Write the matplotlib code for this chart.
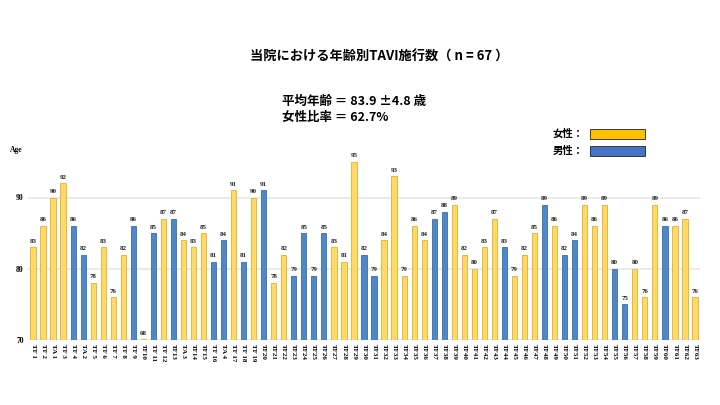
import matplotlib
matplotlib.use("Agg")
import matplotlib.pyplot as plt
from matplotlib.patches import Rectangle

labels = ["TF 1", "TF 2", "TA 1", "TF 3", "TF 4", "TA 2", "TF 5", "TF 6", "TF 7", "TF 8",
          "TF 9", "TF10", "TF 11", "TF 12", "TF13", "TA 3", "TF14", "TF15", "TF 16", "TA 4",
          "TF 17", "TF 18", "TF 19", "TF20", "TF21", "TF22", "TF23", "TF24", "TF25", "TF26",
          "TF27", "TF28", "TF29", "TF30", "TF31", "TF32", "TF33", "TF34", "TF35", "TF36",
          "TF37", "TF38", "TF39", "TF40", "TF41", "TF42", "TF43", "TF44", "TF45", "TF46",
          "TF47", "TF48", "TF49", "TF50", "TF51", "TF52", "TF53", "TF54", "TF55", "TF56",
          "TF57", "TF58", "TF59", "TF60", "TF61", "TF62", "TF63"]
ages = [83, 86, 90, 92, 86, 82, 78, 83, 76, 82,
        86, 68, 85, 87, 87, 84, 83, 85, 81, 84,
        91, 81, 90, 91, 78, 82, 79, 85, 79, 85,
        83, 81, 95, 82, 79, 84, 93, 79, 86, 84,
        87, 88, 89, 82, 80, 83, 87, 83, 79, 82,
        85, 89, 86, 82, 84, 89, 86, 89, 80, 75,
        80, 76, 89, 86, 86, 87, 76]
sex = ["F", "F", "F", "F", "M", "M", "F", "F", "F", "F",
       "M", "F", "M", "F", "M", "F", "F", "F", "M", "M",
       "F", "M", "F", "M", "F", "F", "M", "M", "M", "M",
       "F", "F", "F", "M", "M", "F", "F", "F", "F", "F",
       "M", "M", "F", "F", "F", "F", "F", "M", "F", "F",
       "F", "M", "F", "M", "M", "F", "F", "F", "M", "M",
       "F", "F", "F", "M", "F", "F", "F"]
yticks = [70, 80, 90]

title = "当院における年齢別TAVI施行数（ n = 67 ）"
stats = ["平均年齢 ＝ 83.9 ±4.8 歳", "女性比率 ＝ 62.7%"]
legend_labels = ["女性：", "男性："]

plt.rcParams['font.family'] = ['Noto Sans CJK JP', 'DejaVu Sans']

fill = {"F": "#FFD966", "M": "#4F88C9"}
edge = {"F": "#E0B030", "M": "#3A6EA8"}

fig = plt.figure(figsize=(7.2, 4.05), dpi=100)
ax = fig.add_axes([28/720, 1-340/405, 672/720, 0.475])

base = 70
x = list(range(len(ages)))
heights = [max(a - base, 0.2) for a in ages]
ax.bar(x, heights, bottom=base, width=0.52,
       color=[fill[s] for s in sex], edgecolor=[edge[s] for s in sex],
       linewidth=0.6, zorder=3)
for xi, a in zip(x, ages):
    ax.text(xi, max(a, base) + 0.5, str(a), ha='center', va='bottom', fontsize=5,
            family=['Liberation Serif'], fontweight='bold', color='#222222')

ax.set_xlim(-0.5, len(ages) - 0.5)
ax.set_ylim(70, 97)
ax.set_yticks(yticks)
ax.set_yticklabels([str(t) for t in yticks], family=['Liberation Serif'], fontsize=5.5,
                   fontweight='bold')
ax.set_xticks(x)
ax.set_xticklabels(labels, rotation=-90, family=['Liberation Serif'], fontsize=5,
                   fontweight='bold')
ax.tick_params(length=0, pad=3)
for sp in ax.spines.values():
    sp.set_visible(False)
ax.grid(axis='y', color='#E6E6E6', linewidth=1.2, zorder=0)
fig.text(10/720, 1-150/405, "Age", family=['Liberation Serif'],
         fontsize=5.5, fontweight='bold', ha='left', va='center')

fig.text(0.527, 1-57/405, title, ha='center', va='center', fontsize=9.5, fontweight='bold')
fig.text(282/720, 1-101/405, stats[0], ha='left', va='center', fontsize=9, fontweight='bold')
fig.text(282/720, 1-118/405, stats[1], ha='left', va='center', fontsize=9, fontweight='bold')

leg_colors = ["#FFC000", "#4472C4"]
for i, (lab, c) in enumerate(zip(legend_labels, leg_colors)):
    yc = 134 + i * 17
    fig.text(553/720, 1-yc/405, lab, ha='left', va='center', fontsize=7.5, fontweight='bold')
    fig.patches.append(Rectangle((590/720, 1-(yc+5)/405), 55/720, 10/405,
                                 transform=fig.transFigure, facecolor=c,
                                 edgecolor='#222222', linewidth=0.6))

fig.savefig("out.png", dpi=100)
